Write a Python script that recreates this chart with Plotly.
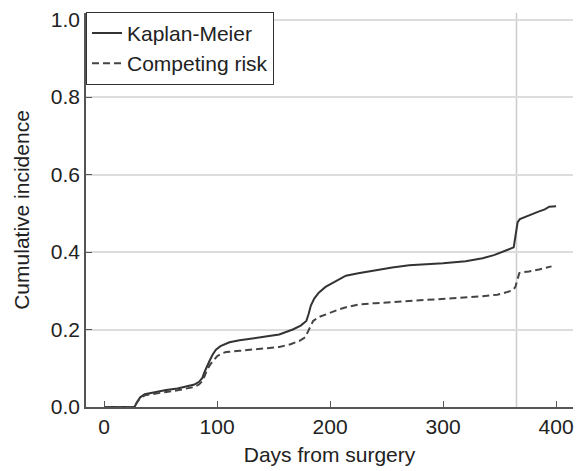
import plotly.graph_objects as go

km_days = [0, 27, 29, 32, 36, 45, 55, 65, 73, 80, 84, 87, 89, 91, 93.5, 96, 99, 103, 107, 111,
           120, 130, 143, 155, 167, 174, 179, 181, 183, 186, 190, 196, 202, 208, 214,
           225, 238, 255, 270, 285, 300, 320, 335, 345, 353, 358, 362.5, 364, 366, 368,
           373.5, 380, 385, 390, 394, 400]
km_vals = [0, 0, 0.012, 0.025, 0.033, 0.039, 0.044, 0.048, 0.053, 0.058, 0.065, 0.075, 0.091, 0.105, 0.12,
           0.135, 0.148, 0.157, 0.163, 0.167, 0.172, 0.177, 0.182, 0.187, 0.2, 0.21, 0.222, 0.24, 0.262, 0.28,
           0.295, 0.31, 0.32, 0.329, 0.339, 0.345, 0.352, 0.36, 0.366, 0.368, 0.371, 0.376, 0.384, 0.392, 0.401,
           0.406, 0.412, 0.44, 0.477, 0.485, 0.492, 0.499, 0.505, 0.51, 0.517, 0.518]

cr_days = [0, 27, 29, 32, 36, 45, 55, 65, 73, 80, 84, 87, 89, 91, 94, 97, 100, 104, 108, 120,
           126, 140, 155, 165, 173, 178, 180, 183, 185, 190, 197, 202, 208, 215, 226,
           240, 258.5, 280, 297, 315, 335, 348, 356, 362, 364, 366, 367.5, 370, 376, 385, 396]
cr_vals = [0, 0, 0.011, 0.023, 0.03, 0.035, 0.039, 0.043, 0.047, 0.052, 0.058, 0.067, 0.08, 0.095, 0.11,
           0.122, 0.131, 0.138, 0.142, 0.145, 0.147, 0.151, 0.155, 0.162, 0.171, 0.18, 0.193, 0.212, 0.222, 0.232,
           0.24, 0.246, 0.252, 0.258, 0.265, 0.268, 0.271, 0.275, 0.278, 0.282, 0.286, 0.29, 0.296, 0.302, 0.31,
           0.33, 0.346, 0.348, 0.35, 0.355, 0.363]

x_ticks = [0, 100, 200, 300, 400]
y_ticks = [0.0, 0.2, 0.4, 0.6, 0.8, 1.0]
y_tick_labels = ["0.0", "0.2", "0.4", "0.6", "0.8", "1.0"]
ref_day = 365

FONT = "Liberation Sans, Arial, sans-serif"
TXT = "#222222"
FS = 21

fig = go.Figure()
fig.add_trace(go.Scatter(x=km_days, y=km_vals, mode="lines", name="Kaplan-Meier",
                         line=dict(color="#333333", width=2)))
fig.add_trace(go.Scatter(x=cr_days, y=cr_vals, mode="lines", name="Competing risk",
                         line=dict(color="#444444", width=2, dash="7px,4px")))

fig.add_shape(type="line", xref="x", yref="paper", x0=ref_day, x1=ref_day, y0=0, y1=1,
              line=dict(color="#cccccc", width=1.5), layer="below")

fig.update_layout(
    width=582, height=471,
    margin=dict(l=86, r=8, t=10, b=62),
    paper_bgcolor="white", plot_bgcolor="white",
    font=dict(family=FONT, size=FS, color=TXT),
    showlegend=True,
    legend=dict(x=0, y=1.003, xanchor="left", yanchor="top",
                bordercolor="#333333", borderwidth=1, bgcolor="white",
                font=dict(size=FS, color=TXT), itemwidth=30,
                tracegroupgap=0),
    xaxis=dict(range=[-16, 415], tickvals=x_ticks, showgrid=False, zeroline=False,
               showline=True, linecolor="#555555", linewidth=1.5,
               ticks="inside", ticklen=6, tickcolor="#555555", tickwidth=1.2,
               tickfont=dict(size=FS, color=TXT),
               title=dict(text="Days from surgery", font=dict(size=FS, color=TXT), standoff=10)),
    yaxis=dict(range=[0, 1.017], tickvals=y_ticks, ticktext=y_tick_labels,
               showgrid=True, gridcolor="#dddddd", gridwidth=1.5, zeroline=False,
               showline=True, linecolor="#555555", linewidth=1.5,
               ticks="inside", ticklen=6, tickcolor="#555555", tickwidth=1.2,
               tickfont=dict(size=FS, color=TXT),
               title=dict(text="Cumulative incidence", font=dict(size=FS, color=TXT), standoff=15)),
)

fig.write_html("out.html")
